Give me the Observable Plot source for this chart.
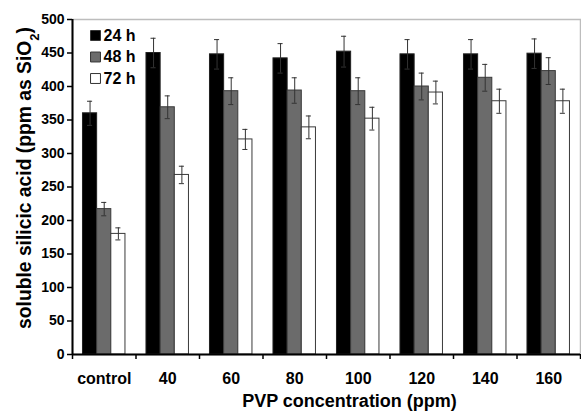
<!DOCTYPE html>
<html><head><meta charset="utf-8">
<script src="https://cdn.jsdelivr.net/npm/d3@7"></script>
<script src="https://cdn.jsdelivr.net/npm/@observablehq/plot@0.6"></script>
<style>
body{margin:0;background:#fff}
#chart svg{font-family:"Liberation Sans",Arial,sans-serif;overflow:visible}
</style>
</head><body><div id="chart"></div>
<script>
const categories = ["control","40","60","80","100","120","140","160"];
const series = ["24 h","48 h","72 h"];
const values24 = [360,450,448,442,452,448,448,449];
const values48 = [217,369,393,394,393,400,413,423];
const values72 = [180,268,321,339,352,391,378,378];
const errors24 = [18,22,22,22,23,22,22,22];
const errors48 = [10,17,20,19,20,20,20,20];
const errors72 = [9,13,15,17,17,17,18,18];
const yTicks = [0,50,100,150,200,250,300,350,400,450,500];
const colors = ["#000000","#6b6b6b","#ffffff"];
const xTitle = "PVP concentration (ppm)";
const yTitle = "soluble silicic acid (ppm as SiO2)";

const valuesBy = [values24, values48, values72];
const errorsBy = [errors24, errors48, errors72];
const barPad = 0.165, barW = 0.223, capW = 0.04;
const data = [];
categories.forEach((c, i) => series.forEach((s, j) => {
  const x1 = i + barPad + j * barW;
  data.push({category: c, series: s, value: valuesBy[j][i], err: errorsBy[j][i],
    x1, x2: x1 + barW, xm: x1 + barW / 2});
}));

const chart = Plot.plot({
  width: 581, height: 413,
  marginLeft: 72, marginRight: 1, marginTop: 19, marginBottom: 59,
  x: {domain: [0, categories.length]},
  y: {domain: [0, 500]},
  color: {domain: series, range: colors},
  style: {fontFamily: "Liberation Sans, Arial, sans-serif", color: "#000"},
  marks: [
    Plot.frame({stroke: "#bdbdbd", strokeWidth: 1.5}),
    Plot.rectY(data, {x1: "x1", x2: "x2", y1: 0, y2: "value", fill: "series",
      stroke: d => d.series === "24 h" ? "#222" : "#3a3a3a", strokeWidth: 1}),
    Plot.ruleX(data, {x: "xm", y1: d => d.value - d.err, y2: d => d.value + d.err, stroke: "#333", strokeWidth: 1}),
    Plot.ruleY(data, {y: d => d.value + d.err, x1: d => d.xm - capW, x2: d => d.xm + capW, stroke: "#333", strokeWidth: 1}),
    Plot.ruleY(data, {y: d => d.value - d.err, x1: d => d.xm - capW, x2: d => d.xm + capW, stroke: "#333", strokeWidth: 1}),
    Plot.axisY({ticks: yTicks, tickSize: 5, tickPadding: 3, fontSize: 14, fontWeight: "bold", label: null, strokeWidth: 1.5}),
    Plot.axisX({ticks: d3.range(0, categories.length + 1), tickSize: 5, tickFormat: () => "", label: null, strokeWidth: 1.5}),
    Plot.axisX({ticks: categories.map((c, i) => i + 0.5), tickSize: 0, tickPadding: 18,
      tickFormat: v => categories[Math.floor(v)], fontSize: 16, fontWeight: "bold", label: null}),
    Plot.ruleX([0], {stroke: "#000", strokeWidth: 2}),
    Plot.ruleY([0], {stroke: "#000", strokeWidth: 2}),
    ...series.map((s, j) => Plot.dot([s], {frameAnchor: "top-left", dx: 23, dy: 16 + j * 21.5,
      symbol: "square", r: 5.6, fill: d => d, stroke: "#333", strokeWidth: 1})),
    ...series.map((s, j) => Plot.text([s], {frameAnchor: "top-left", dx: 31, dy: 16 + j * 21.5,
      textAnchor: "start", lineAnchor: "middle", fontSize: 16, fontWeight: "bold", fill: "#000"})),
    Plot.text([xTitle], {frameAnchor: "bottom", dx: 23, dy: 47, lineAnchor: "middle", textAnchor: "middle",
      fontSize: 18, fontWeight: "bold", fill: "#000"}),
    Plot.text([yTitle], {frameAnchor: "left", dx: -48, dy: -9, rotate: -90, lineAnchor: "middle", textAnchor: "middle",
      fontSize: 19.3, fontWeight: "bold", fill: "#000"})
  ]
});
document.getElementById("chart").append(chart);

// subscript "2" in SiO2
d3.select(chart).selectAll("text").filter(function() { return this.textContent === yTitle; })
  .each(function() {
    const t = d3.select(this);
    t.attr("text-anchor", "middle");
    t.text(null);
    t.append("tspan").text("soluble silicic acid (ppm as SiO");
    t.append("tspan").attr("baseline-shift", "sub").attr("font-size", "13").text("2");
    t.append("tspan").attr("baseline-shift", "0").text(")");
  });
</script>
</body></html>
